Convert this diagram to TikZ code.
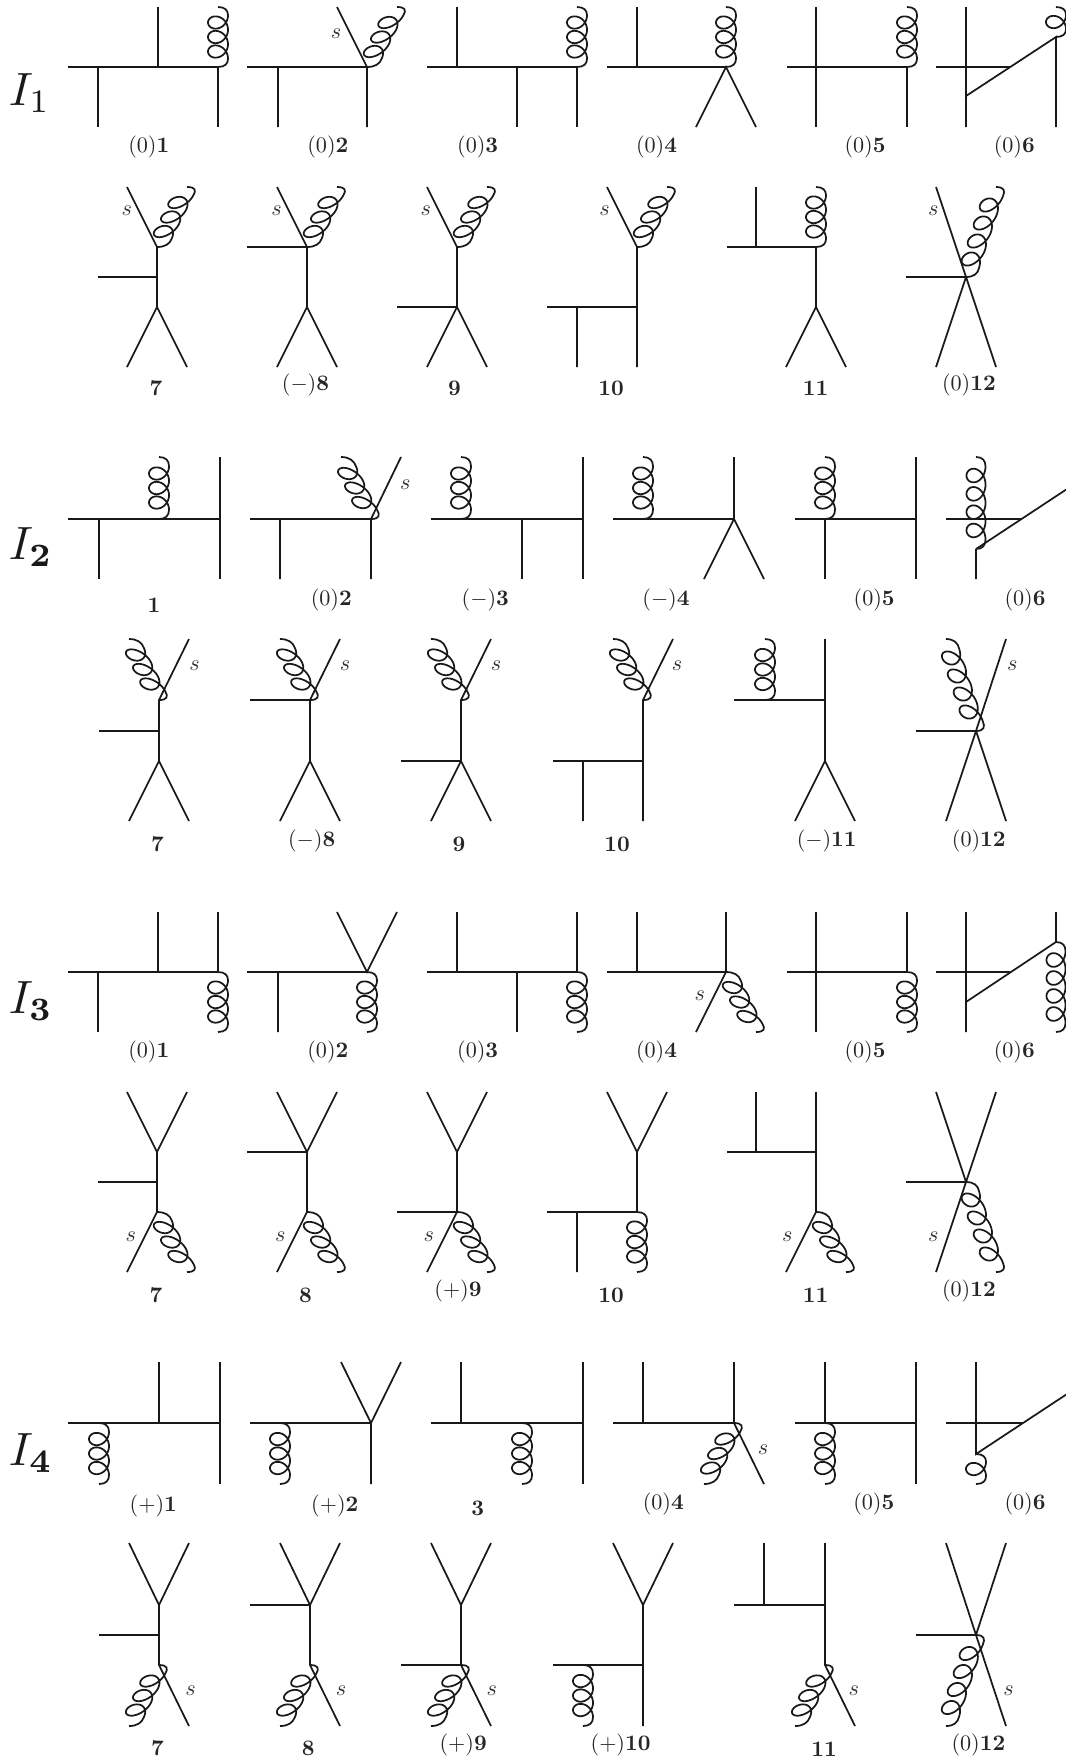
\documentclass[tikz,border=0pt]{standalone}
\tikzset{
  ln/.style={line width=1.3pt,draw=black!90},
  gl/.style={line width=1.3pt,draw=black!90,line join=round},
  lab/.style={anchor=base,inner sep=0pt,scale=1.66,text=black!85},
  slab/.style={anchor=center,inner sep=0pt,scale=1.66,text=black!80},
  big/.style={anchor=base west,inner sep=0pt,scale=3.5,text=black!90}
}
% #1 start coordinate, #2 dx, #3 dy (px, negative = upward), #4 loops, #5 pitch
\newcommand{\gluon}[5]{%
  \pgfmathsetmacro{\glK}{-(#2)/(#3)}%
  \pgfmathsetmacro{\glD}{(#3)<0?-1:1}%
  \pgfmathsetmacro{\glL}{abs(#3)}%
  \pgfmathsetmacro{\glA}{(\glL-(#4)*(#5))/2}%
  \pgfmathsetmacro{\glV}{(#5)/6.28318}%
  \pgfmathsetmacro{\glE}{6.28318*(#4)}%
  \pgfmathtruncatemacro{\glN}{40*(#4)+1}%
  \pgfmathsetmacro{\glR}{(#2)==0?(\glL>70?9.5:10):(\glL>70?10:10.5)}%
  \pgfmathsetmacro{\glS}{(#2)==0?(\glL>70?11:9.5):(\glL>70?10.7:9)}%
  \pgfmathsetmacro{\glB}{(#2)==0?0:1}%
  \begin{scope}[shift={(#1)},xslant=\glK]
    \draw[gl] (0,0) .. controls (\glR*0.7+\glB,0) and (\glR+\glB*0.7,\glD*0.4*\glA) .. (\glR,\glD*\glA)
      -- plot[domain=0:\glE,samples=\glN] ({\glR*cos(\x r)},{\glD*(\glA+\glV*\x+\glS*sin(\x r))})
      .. controls (\glR+\glB*0.7,\glD*\glL-\glD*0.4*\glA) and (\glR*0.7+\glB,\glD*\glL) .. (0,\glD*\glL);
  \end{scope}%
}
\begin{document}
\begin{tikzpicture}[x=0.75pt,y=-0.75pt]
\useasboundingbox (0,0) rectangle (1066,1761);
\node[big] (i1) at (8,105.7) {$I_1$};
\node[big] (i2) at (8,559.7) {$I_{\mathbf 2}$};
\node[big] (i3) at (8,1013.7) {$I_{\mathbf 3}$};
\node[big] (i4) at (8,1465.7) {$I_{\mathbf 4}$};

% ---------- I1 row 1
\def\yT{7}\def\yH{67}\def\yB{127}
\coordinate (a1) at (218,\yH);
\draw[ln] (68,\yH)--(a1)--(218,\yB) (98,\yH)--(98,\yB) (158,\yH)--(158,\yT);
\gluon{a1}{0}{-60}{3}{14.5}
\coordinate (a2) at (367,\yH);
\draw[ln] (247,\yH)--(a2)--(367,\yB) (278,\yH)--(278,\yB) (a2)--(337,\yT);
\gluon{a2}{30}{-60}{3}{14.5}
\coordinate (a3) at (577,\yH);
\draw[ln] (427,\yH)--(a3)--(577,\yB) (457,\yH)--(457,\yT) (517,\yH)--(517,\yB);
\gluon{a3}{0}{-60}{3}{14.5}
\coordinate (a4) at (726,\yH);
\draw[ln] (607,\yH)--(a4) (637,\yH)--(637,\yT) (696,\yB)--(a4)--(756,\yB);
\gluon{a4}{0}{-60}{3}{14.5}
\coordinate (a5) at (907,\yH);
\draw[ln] (787,\yH)--(a5)--(907,\yB) (816,\yT)--(816,\yB);
\gluon{a5}{0}{-60}{3}{14.5}
\coordinate (a6) at (1056,37);
\draw[ln] (936,\yH)--(1010,\yH) (966,\yT)--(966,\yB) (966,96)--(a6)--(1056,\yB);
\gluon{a6}{0}{-30}{1}{14.5}
\node[lab] (a1l) at (148.8,152.7) {$(0)\mathbf{1}$};
\node[lab] (a2l) at (327.9,152.7) {$(0)\mathbf{2}$};
\node[lab] (a3l) at (477.7,152.7) {$(0)\mathbf{3}$};
\node[lab] (a4l) at (656.5,152.7) {$(0)\mathbf{4}$};
\node[lab] (a5l) at (865,152.7) {$(0)\mathbf{5}$};
\node[lab] (a6l) at (1014.3,152.7) {$(0)\mathbf{6}$};
\node[slab] (a2s) at (336,33.3) {$s$};

% ---------- I1 row 2
\def\yT{187}\def\yJ{247}\def\yS{277}\def\yV{307}\def\yE{367}
\coordinate (a7) at (157,\yJ);
\draw[ln] (127,\yT)--(a7)--(157,\yV) (98,\yS)--(157,\yS) (127,\yE)--(157,\yV)--(187,\yE);
\gluon{a7}{30}{-60}{3}{14.5}
\coordinate (a8) at (307,\yJ);
\draw[ln] (277,\yT)--(a8)--(307,\yV) (247,\yJ)--(a8) (277,\yE)--(307,\yV)--(337,\yE);
\gluon{a8}{30}{-60}{3}{14.5}
\coordinate (a9) at (457,\yJ);
\draw[ln] (427,\yT)--(a9)--(457,\yV) (397,\yV)--(457,\yV) (427,\yE)--(457,\yV)--(487,\yE);
\gluon{a9}{30}{-60}{3}{14.5}
\coordinate (a10) at (637,\yJ);
\draw[ln] (607,\yT)--(a10)--(637,\yE) (547,\yV)--(637,\yV) (577,\yV)--(577,\yE);
\gluon{a10}{30}{-60}{3}{14.5}
\coordinate (a11) at (816,\yJ);
\draw[ln] (727,\yJ)--(a11)--(816,\yV) (756,\yJ)--(756,\yT) (786,\yE)--(816,\yV)--(846,\yE);
\gluon{a11}{0}{-60}{3}{14.5}
\coordinate (a12) at (966,\yS);
\draw[ln] (906,\yS)--(a12) (936,\yT)--(a12)--(996,\yE) (936,\yE)--(a12);
\gluon{a12}{30}{-90}{4}{18}
\node[lab] (a7l) at (156,395.3) {$\mathbf{7}$};
\node[lab] (a8l) at (305.5,390.3) {$(-)\mathbf{8}$};
\node[lab] (a9l) at (454.6,395.3) {$\mathbf{9}$};
\node[lab] (a10l) at (611,395.3) {$\mathbf{10}$};
\node[lab] (a11l) at (815.7,395.3) {$\mathbf{11}$};
\node[lab] (a12l) at (968.9,390.3) {$(0)\mathbf{12}$};
\node[slab] (a7s) at (126.7,211) {$s$};
\node[slab] (a8s) at (276.6,211) {$s$};
\node[slab] (a9s) at (425.7,211) {$s$};
\node[slab] (a10s) at (604.5,211) {$s$};
\node[slab] (a12s) at (933.3,211) {$s$};

% ---------- I2 row 1
\def\yT{457}\def\yH{519}\def\yB{579}
\coordinate (b1) at (159,\yH);
\draw[ln] (68,\yH)--(220,\yH) (99,\yH)--(99,\yB) (220,\yT)--(220,\yB);
\gluon{b1}{0}{-62}{3}{14.5}
\coordinate (b2) at (371,\yH);
\draw[ln] (250,\yH)--(b2)--(371,\yB) (280,\yH)--(280,\yB) (b2)--(401,\yT);
\gluon{b2}{-30}{-62}{3}{14.5}
\coordinate (b3) at (461,\yH);
\draw[ln] (431,\yH)--(583,\yH) (522,\yH)--(522,\yB) (583,\yT)--(583,\yB);
\gluon{b3}{0}{-62}{3}{14.5}
\coordinate (b4) at (643,\yH);
\draw[ln] (613,\yH)--(734,\yH) (734,\yT)--(734,\yH) (704,\yB)--(734,\yH)--(764,\yB);
\gluon{b4}{0}{-62}{3}{14.5}
\coordinate (b5) at (825,\yH);
\draw[ln] (795,\yH)--(916,\yH) (b5)--(825,\yB) (916,\yT)--(916,\yB);
\gluon{b5}{0}{-62}{3}{14.5}
\coordinate (b6) at (976,549);
\draw[ln] (946,\yH)--(1022,\yH) (b6)--(976,\yB) (b6)--(1067,489);
\gluon{b6}{0}{-92}{4}{18.3}
\node[lab] (b1l) at (154,612) {$\mathbf{1}$};
\node[lab] (b2l) at (331.3,605.7) {$(0)\mathbf{2}$};
\node[lab] (b3l) at (485.3,605.7) {$(-)\mathbf{3}$};
\node[lab] (b4l) at (666,605.7) {$(-)\mathbf{4}$};
\node[lab] (b5l) at (874.2,605.7) {$(0)\mathbf{5}$};
\node[lab] (b6l) at (1025,605.7) {$(0)\mathbf{6}$};
\node[slab] (b2s) at (405.4,484.3) {$s$};

% ---------- I2 row 2
\def\yT{639}\def\yJ{700}\def\yS{731}\def\yV{761}\def\yE{821}
\coordinate (b7) at (159,\yJ);
\draw[ln] (189,\yT)--(b7)--(159,\yV) (99,\yS)--(159,\yS) (129,\yE)--(159,\yV)--(189,\yE);
\gluon{b7}{-30}{-61}{3}{14.5}
\coordinate (b8) at (310,\yJ);
\draw[ln] (340,\yT)--(b8)--(310,\yV) (250,\yJ)--(b8) (280,\yE)--(310,\yV)--(340,\yE);
\gluon{b8}{-30}{-61}{3}{14.5}
\coordinate (b9) at (461,\yJ);
\draw[ln] (491,\yT)--(b9)--(461,\yV) (401,\yV)--(461,\yV) (431,\yE)--(461,\yV)--(491,\yE);
\gluon{b9}{-30}{-61}{3}{14.5}
\coordinate (b10) at (643,\yJ);
\draw[ln] (673,\yT)--(b10)--(643,\yE) (553,\yV)--(643,\yV) (583,\yV)--(583,\yE);
\gluon{b10}{-30}{-61}{3}{14.5}
\coordinate (b11) at (765,\yJ);
\draw[ln] (734,\yJ)--(825,\yJ) (825,\yT)--(825,\yV) (795,\yE)--(825,\yV)--(855,\yE);
\gluon{b11}{0}{-61}{3}{14.5}
\coordinate (b12) at (976,\yS);
\draw[ln] (916,\yS)--(b12) (1006,\yT)--(b12)--(946,\yE) (1006,\yE)--(b12);
\gluon{b12}{-30}{-92}{4}{18}
\node[lab] (b7l) at (157.4,851.3) {$\mathbf{7}$};
\node[lab] (b8l) at (311.7,846) {$(-)\mathbf{8}$};
\node[lab] (b9l) at (459,851.3) {$\mathbf{9}$};
\node[lab] (b10l) at (617,851.3) {$\mathbf{10}$};
\node[lab] (b11l) at (826.7,846) {$(-)\mathbf{11}$};
\node[lab] (b12l) at (978.8,846) {$(0)\mathbf{12}$};
\node[slab] (b7s) at (194.6,665.3) {$s$};
\node[slab] (b8s) at (345,665.3) {$s$};
\node[slab] (b9s) at (496,665.3) {$s$};
\node[slab] (b10s) at (677,665.3) {$s$};
\node[slab] (b12s) at (1012.3,665.3) {$s$};

% ---------- I3 row 1
\def\yT{912}\def\yH{972}\def\yB{1032}
\coordinate (c1) at (218,\yH);
\draw[ln] (68,\yH)--(c1)--(218,\yT) (98,\yH)--(98,\yB) (158,\yH)--(158,\yT);
\gluon{c1}{0}{60}{3}{14.5}
\coordinate (c2) at (367,\yH);
\draw[ln] (247,\yH)--(c2) (278,\yH)--(278,\yB) (337,\yT)--(c2)--(397,\yT);
\gluon{c2}{0}{60}{3}{14.5}
\coordinate (c3) at (577,\yH);
\draw[ln] (427,\yH)--(c3)--(577,\yT) (457,\yH)--(457,\yT) (517,\yH)--(517,\yB);
\gluon{c3}{0}{60}{3}{14.5}
\coordinate (c4) at (726,\yH);
\draw[ln] (607,\yH)--(c4)--(726,\yT) (637,\yH)--(637,\yT) (c4)--(696,\yB);
\gluon{c4}{30}{60}{3}{14.5}
\coordinate (c5) at (907,\yH);
\draw[ln] (787,\yH)--(c5)--(907,\yT) (816,\yT)--(816,\yB);
\gluon{c5}{0}{60}{3}{14.5}
\coordinate (c6) at (1056,942);
\draw[ln] (936,\yH)--(1010,\yH) (966,\yT)--(966,\yB) (966,1002)--(c6)--(1056,\yT);
\gluon{c6}{0}{90}{4}{18}
\node[lab] (c1l) at (148.8,1057.7) {$(0)\mathbf{1}$};
\node[lab] (c2l) at (327.9,1057.7) {$(0)\mathbf{2}$};
\node[lab] (c3l) at (477.7,1057.7) {$(0)\mathbf{3}$};
\node[lab] (c4l) at (656.5,1057.7) {$(0)\mathbf{4}$};
\node[lab] (c5l) at (865,1057.7) {$(0)\mathbf{5}$};
\node[lab] (c6l) at (1014.3,1057.7) {$(0)\mathbf{6}$};
\node[slab] (c4s) at (699.9,995.7) {$s$};

% ---------- I3 row 2
\def\yT{1092}\def\yJ{1152}\def\yS{1182}\def\yV{1212}\def\yE{1272}
\coordinate (c7) at (157,\yV);
\draw[ln] (127,\yT)--(157,\yJ)--(187,\yT) (157,\yJ)--(c7)--(127,\yE) (98,\yS)--(157,\yS);
\gluon{c7}{30}{60}{3}{14.5}
\coordinate (c8) at (307,\yV);
\draw[ln] (277,\yT)--(307,\yJ)--(337,\yT) (307,\yJ)--(c8)--(277,\yE) (247,\yJ)--(307,\yJ);
\gluon{c8}{30}{60}{3}{14.5}
\coordinate (c9) at (457,\yV);
\draw[ln] (427,\yT)--(457,\yJ)--(487,\yT) (457,\yJ)--(c9)--(427,\yE) (397,\yV)--(c9);
\gluon{c9}{30}{60}{3}{14.5}
\coordinate (c10) at (637,\yV);
\draw[ln] (607,\yT)--(637,\yJ)--(667,\yT) (637,\yJ)--(c10) (547,\yV)--(c10) (577,\yV)--(577,\yE);
\gluon{c10}{0}{60}{3}{14.5}
\coordinate (c11) at (816,\yV);
\draw[ln] (816,\yT)--(c11)--(786,\yE) (727,\yJ)--(816,\yJ) (756,\yJ)--(756,\yT);
\gluon{c11}{30}{60}{3}{14.5}
\coordinate (c12) at (966,\yS);
\draw[ln] (906,\yS)--(c12) (936,\yT)--(c12) (996,\yT)--(c12)--(936,\yE);
\gluon{c12}{30}{90}{4}{18}
\node[lab] (c7l) at (156,1302) {$\mathbf{7}$};
\node[lab] (c8l) at (305.5,1302) {$\mathbf{8}$};
\node[lab] (c9l) at (458,1296.3) {$(+)\mathbf{9}$};
\node[lab] (c10l) at (611,1302) {$\mathbf{10}$};
\node[lab] (c11l) at (815.7,1302) {$\mathbf{11}$};
\node[lab] (c12l) at (968.9,1296.3) {$(0)\mathbf{12}$};
\node[slab] (c7s) at (130.9,1236.7) {$s$};
\node[slab] (c8s) at (280.3,1236.7) {$s$};
\node[slab] (c9s) at (428.8,1236.7) {$s$};
\node[slab] (c11s) at (787.4,1236.7) {$s$};
\node[slab] (c12s) at (933.3,1236.7) {$s$};

% ---------- I4 row 1
\def\yT{1362}\def\yH{1423}\def\yB{1484}
\coordinate (d1) at (99,\yH);
\draw[ln] (68,\yH)--(220,\yH) (159,\yH)--(159,\yT) (220,\yT)--(220,\yB);
\gluon{d1}{0}{61}{3}{14.5}
\coordinate (d2) at (280,\yH);
\draw[ln] (250,\yH)--(371,\yH)--(371,\yB) (341,\yT)--(371,\yH)--(401,\yT);
\gluon{d2}{0}{61}{3}{14.5}
\coordinate (d3) at (522,\yH);
\draw[ln] (431,\yH)--(583,\yH) (461,\yH)--(461,\yT) (583,\yT)--(583,\yB);
\gluon{d3}{0}{61}{3}{14.5}
\coordinate (d4) at (734,\yH);
\draw[ln] (613,\yH)--(d4)--(734,\yT) (643,\yH)--(643,\yT) (d4)--(764,\yB);
\gluon{d4}{-30}{61}{3}{14.5}
\coordinate (d5) at (825,\yH);
\draw[ln] (795,\yH)--(916,\yH) (d5)--(825,\yT) (916,\yT)--(916,\yB);
\gluon{d5}{0}{61}{3}{14.5}
\coordinate (d6) at (976,1454);
\draw[ln] (946,\yH)--(1022,\yH) (976,\yT)--(d6)--(1067,1394);
\gluon{d6}{0}{30}{1}{14.5}
\node[lab] (d1l) at (153.3,1511) {$(+)\mathbf{1}$};
\node[lab] (d2l) at (334.8,1511) {$(+)\mathbf{2}$};
\node[lab] (d3l) at (477.7,1515) {$\mathbf{3}$};
\node[lab] (d4l) at (663.3,1509.7) {$(0)\mathbf{4}$};
\node[lab] (d5l) at (873.8,1509.7) {$(0)\mathbf{5}$};
\node[lab] (d6l) at (1025,1509.7) {$(0)\mathbf{6}$};
\node[slab] (d4s) at (763,1449.3) {$s$};

% ---------- I4 row 2
\def\yT{1543}\def\yJ{1605}\def\yS{1635}\def\yV{1665}\def\yE{1726}
\coordinate (d7) at (159,\yV);
\draw[ln] (129,\yT)--(159,\yJ)--(189,\yT) (159,\yJ)--(d7)--(189,\yE) (99,\yS)--(159,\yS);
\gluon{d7}{-30}{61}{3}{14.5}
\coordinate (d8) at (310,\yV);
\draw[ln] (280,\yT)--(310,\yJ)--(340,\yT) (310,\yJ)--(d8)--(340,\yE) (250,\yJ)--(310,\yJ);
\gluon{d8}{-30}{61}{3}{14.5}
\coordinate (d9) at (461,\yV);
\draw[ln] (431,\yT)--(461,\yJ)--(491,\yT) (461,\yJ)--(d9)--(491,\yE) (401,\yV)--(d9);
\gluon{d9}{-30}{61}{3}{14.5}
\coordinate (d10) at (583,\yV);
\draw[ln] (613,\yT)--(643,\yJ)--(673,\yT) (643,\yJ)--(643,\yE) (553,\yV)--(643,\yV);
\gluon{d10}{0}{61}{3}{14.5}
\coordinate (d11) at (825,\yV);
\draw[ln] (825,\yT)--(d11)--(855,\yE) (734,\yJ)--(825,\yJ) (764,\yJ)--(764,\yT);
\gluon{d11}{-30}{61}{3}{14.5}
\coordinate (d12) at (976,\yS);
\draw[ln] (916,\yS)--(d12) (946,\yT)--(d12)--(1006,\yE) (1006,\yT)--(d12);
\gluon{d12}{-30}{91}{4}{18}
\node[lab] (d7l) at (157.4,1755.3) {$\mathbf{7}$};
\node[lab] (d8l) at (308.2,1755.3) {$\mathbf{8}$};
\node[lab] (d9l) at (463.2,1750.3) {$(+)\mathbf{9}$};
\node[lab] (d10l) at (620.6,1750.3) {$(+)\mathbf{10}$};
\node[lab] (d11l) at (824,1756) {$\mathbf{11}$};
\node[lab] (d12l) at (978.4,1750.3) {$(0)\mathbf{12}$};
\node[slab] (d7s) at (190.5,1690.7) {$s$};
\node[slab] (d8s) at (341,1690.7) {$s$};
\node[slab] (d9s) at (491.8,1690.7) {$s$};
\node[slab] (d11s) at (853.7,1690.7) {$s$};
\node[slab] (d12s) at (1008.5,1690.7) {$s$};
\end{tikzpicture}
\end{document}
